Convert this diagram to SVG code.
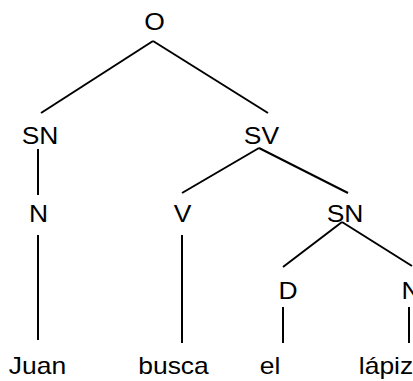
<svg xmlns="http://www.w3.org/2000/svg" width="413" height="381" viewBox="0 0 413 381">
<style>
text{font-family:"Liberation Sans",Arial,sans-serif;font-size:23px;fill:#000;text-anchor:middle}
#edges line{stroke:#000;stroke-width:2;stroke-linecap:butt}
</style>
<rect width="413" height="381" fill="#fff"/>
<g id="edges">
<line x1="153" y1="41" x2="41" y2="113"/>
<line x1="153" y1="41" x2="268" y2="113"/>
<line x1="38" y1="149" x2="38" y2="195"/>
<line x1="38" y1="235" x2="38" y2="340"/>
<line x1="259" y1="148" x2="182" y2="193"/>
<line x1="259" y1="148" x2="348" y2="193"/>
<line x1="182" y1="235" x2="182" y2="343"/>
<line x1="342" y1="222" x2="283" y2="267"/>
<line x1="342" y1="222" x2="412" y2="266"/>
<line x1="283" y1="307" x2="283" y2="343"/>
<line x1="409" y1="307" x2="409" y2="343"/>
</g>
<g id="O"><text transform="translate(154.5,30) scale(1.15,1)">O</text></g>
<g id="SN1"><text transform="translate(40,144) scale(1.15,1)">SN</text></g>
<g id="SV"><text transform="translate(261.5,144) scale(1.15,1)">SV</text></g>
<g id="N1"><text transform="translate(38.5,222) scale(1.15,1)">N</text></g>
<g id="V"><text transform="translate(182.5,222) scale(1.15,1)">V</text></g>
<g id="SN2"><text transform="translate(345,222) scale(1.15,1)">SN</text></g>
<g id="D"><text transform="translate(288,299) scale(1.15,1)">D</text></g>
<g id="N2"><text transform="translate(411,299) scale(1.15,1)">N</text></g>
<g id="Juan"><text transform="translate(37.5,373.5) scale(1.15,1)">Juan</text></g>
<g id="busca"><text transform="translate(173.5,373.5) scale(1.15,1)">busca</text></g>
<g id="el"><text transform="translate(270,373.5) scale(1.15,1)">el</text></g>
<g id="lapiz"><text transform="translate(386,373.5) scale(1.15,1)">lápiz</text></g>
</svg>
